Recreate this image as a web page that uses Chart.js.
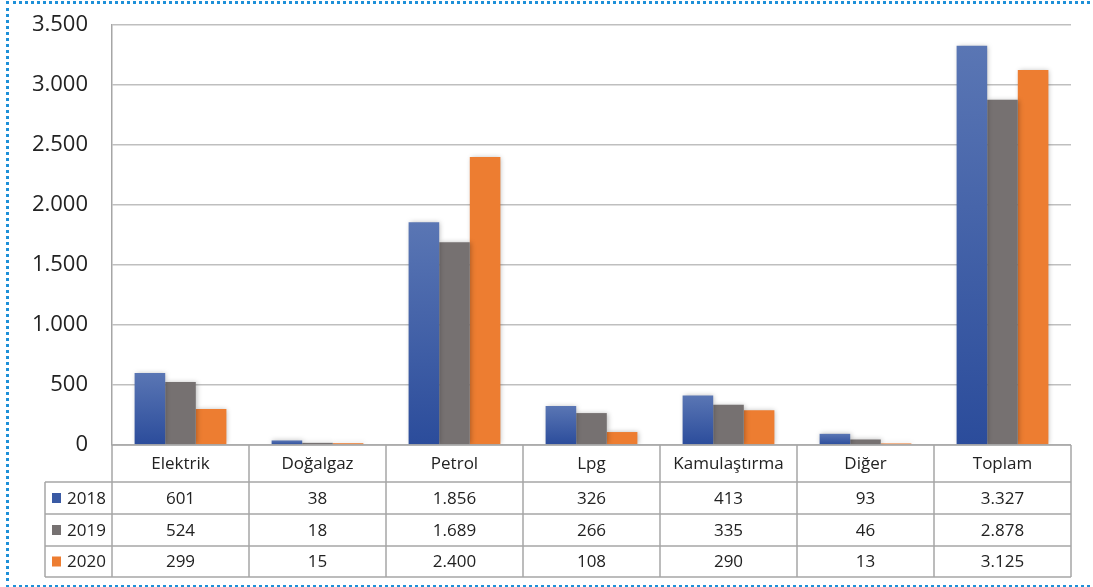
<!DOCTYPE html>
<html>
<head>
<meta charset="utf-8">
<script src="https://cdn.jsdelivr.net/npm/chart.js@4"></script>
<style>
html,body{margin:0;padding:0;background:#fff;}
#wrap{position:relative;width:1093px;height:587px;}
#frame{position:absolute;left:6px;top:1px;width:1100px;height:581px;border-top:3px dotted #1E90D8;border-left:3px dotted #1E90D8;border-bottom:3px dotted #1E90D8;box-sizing:content-box;pointer-events:none;}
canvas{position:absolute;left:0;top:0;}
</style>
</head>
<body>
<div id="wrap">
<canvas id="c" width="1093" height="587"></canvas>
<div id="frame"></div>
</div>
<script>
const categories = ['Elektrik','Doğalgaz','Petrol','Lpg','Kamulaştırma','Diğer','Toplam'];
const seriesNames = ['2018','2019','2020'];
const values2018 = [601, 38, 1856, 326, 413, 93, 3327];
const values2019 = [524, 18, 1689, 266, 335, 46, 2878];
const values2020 = [299, 15, 2400, 108, 290, 13, 3125];
const yTicks = [0, 500, 1000, 1500, 2000, 2500, 3000, 3500];

const fmt = v => v.toLocaleString('de-DE');
const FONT = '"Open Sans", "Noto Sans", sans-serif';

function blueGrad(ctx){
  const chart = ctx.chart;
  const ca = chart.chartArea;
  if (!ca || ctx.parsed === undefined) return '#3F5FA6';
  const ys = chart.scales.y;
  const top = ys.getPixelForValue(ctx.parsed.y);
  const bot = ys.getPixelForValue(0);
  if (!(bot - top > 1)) return '#3F5FA6';
  const g = chart.ctx.createLinearGradient(0, top, 0, bot);
  g.addColorStop(0, '#5A76B4');
  g.addColorStop(1, '#2B4C9B');
  return g;
}

const shadowPlugin = {
  id: 'shadow',
  beforeDatasetsDraw(chart){
    const c = chart.ctx; c.save();
    c.shadowColor = 'rgba(0,0,0,0.28)';
    c.shadowBlur = 5; c.shadowOffsetX = 1; c.shadowOffsetY = 0;
  },
  afterDatasetsDraw(chart){ chart.ctx.restore(); }
};

const tablePlugin = {
  id: 'dataTable',
  afterDraw(chart){
    const c = chart.ctx;
    const ca = chart.chartArea;
    const n = categories.length;
    const w = (ca.right - ca.left) / n;
    const top = ca.bottom;
    const rowsY = [top, 482, 514, 546, 577];
    const legendLeft = 45;
    const data = [values2018, values2019, values2020];
    const colors = ['#3A5AA4', '#767171', '#ED7D31'];
    c.save();
    c.strokeStyle = '#A6A6A6';
    c.lineWidth = 1.5;
    c.beginPath();
    c.moveTo(ca.left, rowsY[0]); c.lineTo(ca.right, rowsY[0]);
    for (let r = 1; r < rowsY.length; r++) {
      c.moveTo(legendLeft, rowsY[r]); c.lineTo(ca.right, rowsY[r]);
    }
    for (let i = 0; i <= n; i++) {
      const x = ca.left + i * w;
      c.moveTo(x, rowsY[0]); c.lineTo(x, rowsY[4]);
    }
    c.moveTo(legendLeft, rowsY[1]); c.lineTo(legendLeft, rowsY[4]);
    c.stroke();

    c.fillStyle = '#222';
    c.font = '17px ' + FONT;
    c.textAlign = 'center';
    c.textBaseline = 'middle';
    for (let i = 0; i < n; i++) {
      const cx = ca.left + (i + 0.5) * w;
      c.fillText(categories[i], cx, (rowsY[0] + rowsY[1]) / 2 + 1);
      for (let s = 0; s < 3; s++) {
        c.fillText(fmt(data[s][i]), cx, (rowsY[s+1] + rowsY[s+2]) / 2 + 1);
      }
    }
    c.textAlign = 'left';
    for (let s = 0; s < 3; s++) {
      const cy = (rowsY[s+1] + rowsY[s+2]) / 2;
      c.fillStyle = colors[s];
      c.fillRect(52, cy - 5, 9, 10);
      c.fillStyle = '#222';
      c.fillText(seriesNames[s], 67, cy + 1);
    }
    c.restore();
  }
};

new Chart(document.getElementById('c'), {
  type: 'bar',
  data: {
    labels: categories,
    datasets: [
      { label: seriesNames[0], data: values2018, backgroundColor: blueGrad },
      { label: seriesNames[1], data: values2019, backgroundColor: '#767171' },
      { label: seriesNames[2], data: values2020, backgroundColor: '#ED7D31' }
    ]
  },
  options: {
    responsive: false,
    animation: false,
    events: [],
    layout: { padding: { left: 0, top: 25, right: 22, bottom: 142 } },
    datasets: { bar: { categoryPercentage: 0.67, barPercentage: 1.0, borderWidth: 0 } },
    plugins: { legend: { display: false }, tooltip: { enabled: false } },
    scales: {
      x: { display: false },
      y: {
        min: 0, max: 3500,
        afterBuildTicks(scale){ scale.ticks = yTicks.map(v => ({ value: v })); },
        afterFit(scale){ scale.width = 112; scale.paddingTop = 0; scale.paddingBottom = 0; },
        grid: { color: '#BFBFBF', lineWidth: 1.5, drawTicks: false },
        border: { display: true, color: '#A6A6A6', width: 1.5 },
        ticks: {
          padding: 24,
          color: '#222',
          font: { family: FONT, size: 22 },
          callback: v => fmt(v)
        }
      }
    }
  },
  plugins: [shadowPlugin, tablePlugin]
});
</script>
</body>
</html>
